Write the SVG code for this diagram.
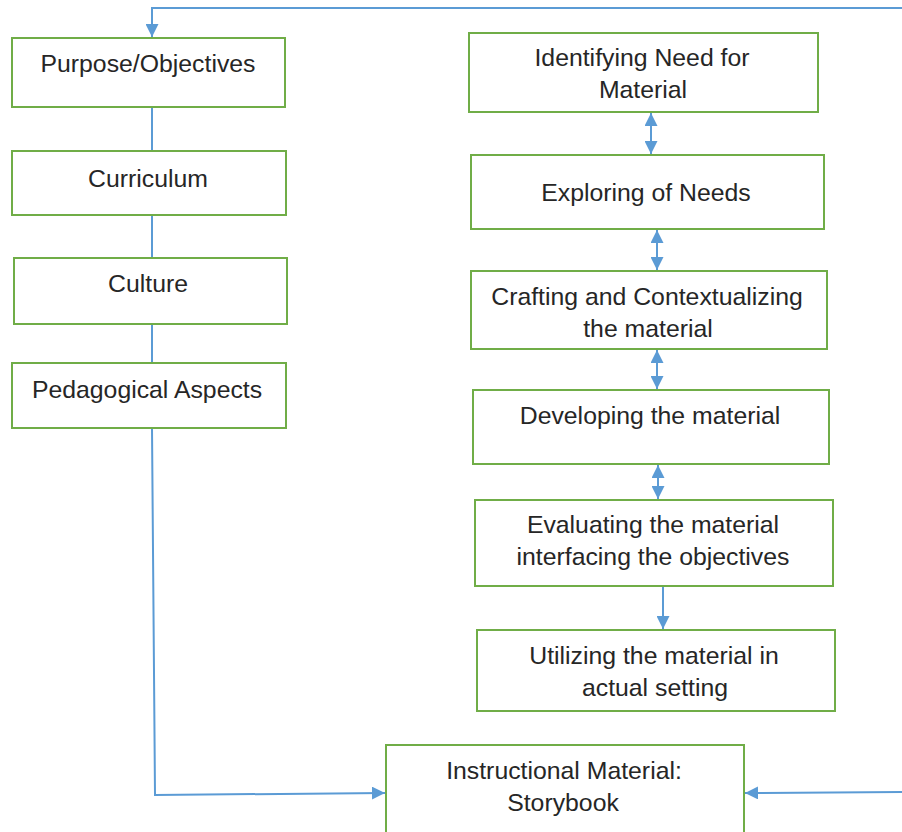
<svg xmlns="http://www.w3.org/2000/svg" width="902" height="832" viewBox="0 0 902 832">
<defs>
<style>
.box{fill:#ffffff;stroke:#70AD47;stroke-width:2}
.t{font-family:"Liberation Sans",Arial,sans-serif;font-size:24.8px;fill:#262626;text-anchor:middle}
.c{fill:none;stroke:#5B9BD5;stroke-width:2}
</style>
<marker id="ah" viewBox="0 0 10 10" refX="10" refY="5" markerWidth="13" markerHeight="13" markerUnits="userSpaceOnUse" orient="auto-start-reverse">
<path d="M0,0 L10,5 L0,10 Z" fill="#5B9BD5"/>
</marker>
</defs>
<rect width="902" height="832" fill="#ffffff"/>
<g id="connectors">
<path class="c" d="M902,8 L152,8 L152,37" marker-end="url(#ah)"/>
<path class="c" d="M152,107 L152,151"/>
<path class="c" d="M152,215 L152,258"/>
<path class="c" d="M152,324 L152,363"/>
<path class="c" d="M152,428 L155,795 L385,793" marker-end="url(#ah)"/>
<path class="c" d="M902,792 L745,793" marker-end="url(#ah)"/>
<path class="c" d="M651,113 L651,154" marker-start="url(#ah)" marker-end="url(#ah)"/>
<path class="c" d="M657,230 L657,270" marker-start="url(#ah)" marker-end="url(#ah)"/>
<path class="c" d="M657,350 L657,389" marker-start="url(#ah)" marker-end="url(#ah)"/>
<path class="c" d="M658,465 L658,499" marker-start="url(#ah)" marker-end="url(#ah)"/>
<path class="c" d="M663,587 L663,629" marker-end="url(#ah)"/>
</g>
<g id="purpose"><rect class="box" x="12" y="38" width="273" height="69"/><text class="t" x="148" y="72">Purpose/Objectives</text></g>
<g id="curriculum"><rect class="box" x="12" y="151" width="274" height="64"/><text class="t" x="148" y="187">Curriculum</text></g>
<g id="culture"><rect class="box" x="14" y="258" width="273" height="66"/><text class="t" x="148" y="292">Culture</text></g>
<g id="pedagogical"><rect class="box" x="12" y="363" width="274" height="65"/><text class="t" x="147" y="398">Pedagogical Aspects</text></g>
<g id="identifying"><rect class="box" x="469" y="33" width="349" height="79"/><text class="t" x="642" y="66">Identifying Need for</text><text class="t" x="643" y="98">Material</text></g>
<g id="exploring"><rect class="box" x="471" y="155" width="353" height="74"/><text class="t" x="646" y="201">Exploring of Needs</text></g>
<g id="crafting"><rect class="box" x="471" y="271" width="356" height="78"/><text class="t" x="647" y="305">Crafting and Contextualizing</text><text class="t" x="648" y="337">the material</text></g>
<g id="developing"><rect class="box" x="473" y="390" width="356" height="74"/><text class="t" x="650" y="424">Developing the material</text></g>
<g id="evaluating"><rect class="box" x="475" y="500" width="358" height="86"/><text class="t" x="653" y="533">Evaluating the material</text><text class="t" x="653" y="565">interfacing the objectives</text></g>
<g id="utilizing"><rect class="box" x="477" y="630" width="358" height="81"/><text class="t" x="654" y="664">Utilizing the material in</text><text class="t" x="655" y="696">actual setting</text></g>
<g id="instructional"><rect class="box" x="386" y="745" width="358" height="92"/><text class="t" x="564" y="779">Instructional Material:</text><text class="t" x="563" y="811">Storybook</text></g>
</svg>
